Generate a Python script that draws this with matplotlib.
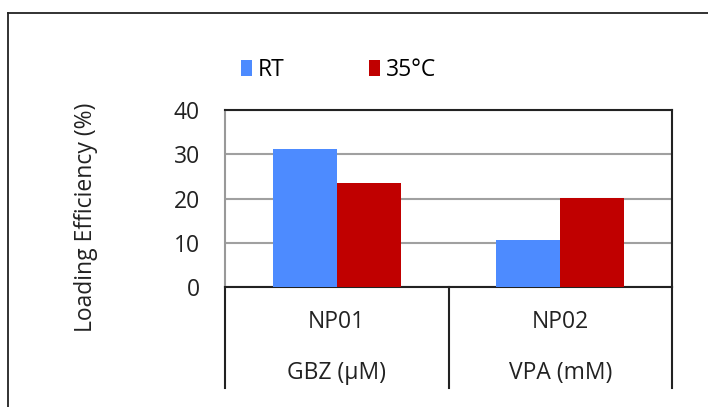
import numpy as np
import matplotlib.pyplot as plt
import matplotlib.transforms as mtransforms
from matplotlib.lines import Line2D

plt.rcParams['font.family'] = ['Open Sans', 'DejaVu Sans']

groups = ["NP01", "NP02"]
units = ["GBZ (\u03bcM)", "VPA (mM)"]
series = ["RT", "35\u00b0C"]
rt_vals = [31.1, 10.6]
hot_vals = [23.4, 20.2]
colors = ["#4D8BFF", "#C00000"]

W, H = 708, 407
fs = 16.5
fig = plt.figure(figsize=(W / 100, H / 100), dpi=100)

# outer chart frame (right and bottom are cut off in the original)
fig.add_artist(Line2D([8 / W, 8 / W], [0, 1 - 13 / H], color="#222222", lw=1.3))
fig.add_artist(Line2D([8 / W, 1], [1 - 13 / H, 1 - 13 / H], color="#222222", lw=1.3))

left, right, top, bottom = 225, 672, 110, 287
ax = fig.add_axes([left / W, 1 - bottom / H, (right - left) / W, (bottom - top) / H])

x = np.arange(len(groups))
bw = 0.286
ax.bar(x - bw / 2, rt_vals, bw, color=colors[0], label=series[0], zorder=3)
ax.bar(x + bw / 2, hot_vals, bw, color=colors[1], label=series[1], zorder=3)

ax.set_xlim(-0.5, 1.5)
ax.set_ylim(0, 40)
ax.set_yticks([0, 10, 20, 30, 40])
ax.tick_params(axis="y", length=0, labelsize=fs, pad=18, colors="#222222")
ax.set_xticks([])
ax.yaxis.grid(True, color="#A0A0A0", lw=1.5, zorder=0)

ax.spines["left"].set_color("#999999")
ax.spines["left"].set_linewidth(1.5)
for s in ["top", "right", "bottom"]:
    ax.spines[s].set_color("#222222")
    ax.spines[s].set_linewidth(1.5)

ax.set_ylabel("Loading Efficiency (%)", fontsize=fs, color="#222222")
ax.yaxis.set_label_coords(-0.285, 0.395)

# category axis boxes below the plot
trans = mtransforms.blended_transform_factory(ax.transData, ax.transAxes)
span = bottom - top
drop = -(388 - bottom) / span
for xs in [-0.5, 0.5, 1.5]:
    ax.plot([xs, xs], [0, drop], transform=trans, color="#222222", lw=1.5, clip_on=False)
for i in range(len(groups)):
    ax.text(x[i], -(322 - bottom) / span, groups[i], transform=trans,
            ha="center", va="center", fontsize=fs, color="#222222")
    ax.text(x[i], -(373 - bottom) / span, units[i], transform=trans,
            ha="center", va="center", fontsize=fs, color="#222222")

ax.legend(loc="center", bbox_to_anchor=(0.254, 1 + (top - 70) / span), ncol=2,
          frameon=False, fontsize=fs, handlelength=0.48, handleheight=0.65,
          handletextpad=0.25, columnspacing=3.7)

fig.savefig("out.png", dpi=100)
